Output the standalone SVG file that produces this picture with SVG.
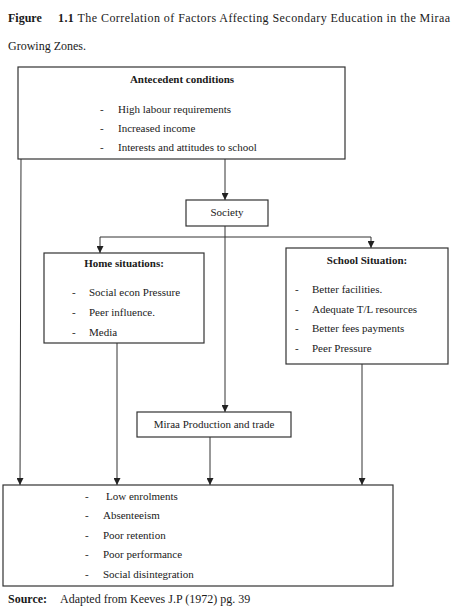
<svg xmlns="http://www.w3.org/2000/svg" width="474" height="607" viewBox="0 0 474 607">
<defs>
<marker id="ah" viewBox="0 0 10 10" refX="10" refY="5" markerWidth="7" markerHeight="7" markerUnits="userSpaceOnUse" orient="auto">
<path d="M0,0 L10,5 L0,10 z" fill="#222"/>
</marker>
<style>
text{font-family:"Liberation Serif","Times New Roman",serif;fill:#1a1a1a}
.t{font-size:12px}
.s{font-size:11px}
.b{font-weight:bold}
.box{fill:#fff;stroke:#333;stroke-width:1.2}
.ln{fill:none;stroke:#333;stroke-width:1}
.ar{marker-end:url(#ah)}
.m{text-anchor:middle}
</style>
</defs>
<rect width="474" height="607" fill="#fff"/>
<g id="title">
<text class="t b" x="8" y="22">Figure</text>
<text class="t" x="58" y="22" textLength="392" lengthAdjust="spacing"><tspan class="b">1.1</tspan> The Correlation of Factors Affecting Secondary Education in the Miraa</text>
<text class="t" x="8" y="50">Growing Zones.</text>
</g>
<g id="connectors">
<line class="ln ar" x1="225" y1="159" x2="225" y2="200"/>
<line class="ln" x1="225" y1="226" x2="225" y2="237"/>
<line class="ln" x1="100" y1="237" x2="371" y2="237"/>
<line class="ln ar" x1="100" y1="237" x2="100" y2="253"/>
<line class="ln ar" x1="371" y1="237" x2="371" y2="248"/>
<line class="ln ar" x1="225" y1="237" x2="225" y2="412"/>
<line class="ln ar" x1="21" y1="159" x2="20" y2="485"/>
<line class="ln ar" x1="117" y1="343" x2="117" y2="485"/>
<line class="ln ar" x1="210" y1="437" x2="210" y2="485"/>
<line class="ln ar" x1="362" y1="364" x2="362" y2="485"/>
</g>
<g id="antecedent">
<rect class="box" x="18" y="67" width="327" height="92"/>
<text class="s b m" x="182" y="83">Antecedent conditions</text>
<text class="s" x="100" y="113">-</text><text class="s" x="118" y="113">High labour requirements</text>
<text class="s" x="100" y="132">-</text><text class="s" x="118" y="132">Increased income</text>
<text class="s" x="100" y="151">-</text><text class="s" x="118" y="151">Interests and attitudes to school</text>
</g>
<g id="society">
<rect class="box" x="186" y="200" width="82" height="26"/>
<text class="s m" x="227" y="216">Society</text>
</g>
<g id="home">
<rect class="box" x="44" y="253" width="160" height="90"/>
<text class="s b m" x="124" y="267">Home situations:</text>
<text class="s" x="72" y="296">-</text><text class="s" x="89" y="296">Social econ Pressure</text>
<text class="s" x="72" y="316">-</text><text class="s" x="89" y="316">Peer influence.</text>
<text class="s" x="72" y="336">-</text><text class="s" x="89" y="336">Media</text>
</g>
<g id="school">
<rect class="box" x="286" y="248" width="162" height="116"/>
<text class="s b m" x="367" y="264">School Situation:</text>
<text class="s" x="295" y="293">-</text><text class="s" x="312" y="293">Better facilities.</text>
<text class="s" x="295" y="313">-</text><text class="s" x="312" y="313">Adequate T/L resources</text>
<text class="s" x="295" y="332">-</text><text class="s" x="312" y="332">Better fees payments</text>
<text class="s" x="295" y="352">-</text><text class="s" x="312" y="352">Peer Pressure</text>
</g>
<g id="miraa">
<rect class="box" x="137" y="412" width="154" height="25"/>
<text class="s m" x="214" y="428">Miraa Production and trade</text>
</g>
<g id="outcomes">
<rect class="box" x="3" y="485" width="390" height="101"/>
<text class="s" x="85" y="500">-</text><text class="s" x="106" y="500">Low enrolments</text>
<text class="s" x="85" y="519">-</text><text class="s" x="103" y="519">Absenteeism</text>
<text class="s" x="85" y="539">-</text><text class="s" x="103" y="539">Poor retention</text>
<text class="s" x="85" y="558">-</text><text class="s" x="103" y="558">Poor performance</text>
<text class="s" x="85" y="578">-</text><text class="s" x="103" y="578">Social disintegration</text>
</g>
<g id="source">
<text class="t b" x="8" y="603">Source:</text>
<text class="t" x="60" y="603">Adapted from Keeves J.P (1972) pg. 39</text>
</g>
</svg>
